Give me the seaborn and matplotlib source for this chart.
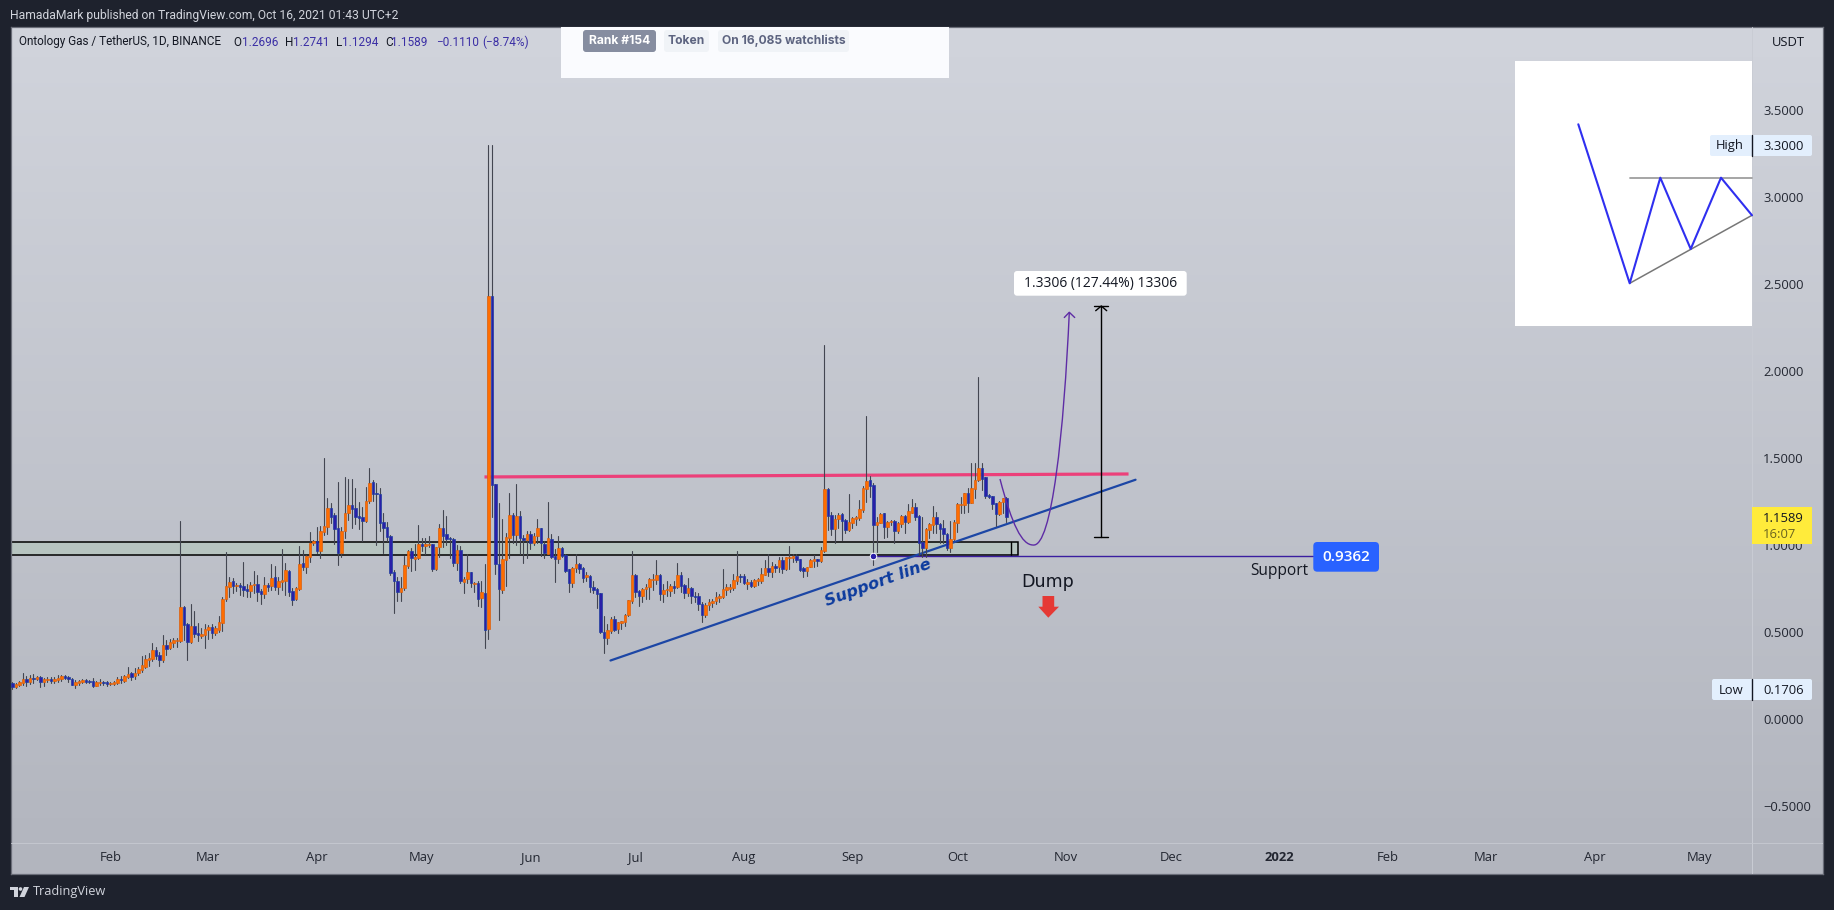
import pandas as pd
import numpy as np
import matplotlib
matplotlib.use('Agg')
import matplotlib.pyplot as plt
import matplotlib.dates as mdates
from matplotlib.patches import Rectangle, FancyBboxPatch, Circle, Polygon, PathPatch
from matplotlib.path import Path
from matplotlib.transforms import Affine2D
import seaborn as sns

# 1. daily OHLC ------------------------------------------------------------
START_DATE = '2021-01-04'

opens = [
    .205, .184, .195, .209, .228, .215, .234, .232, .239, .215, .226, .230, .220, .226, .232, .245, .241, .228, .197, .209,
    .215, .222, .218, .216, .192, .207, .213, .213, .201, .203, .209, .232, .220, .243, .264, .249, .262, .284, .301, .341,
    .347, .397, .368, .339, .425, .410, .439, .446, .448, .642, .546, .444, .534, .492, .479, .483, .511, .527, .496, .511,
    .554, .688, .761, .791, .766, .768, .762, .747, .738, .772, .776, .734, .720, .768, .766, .814, .761, .789, .795, .851,
    .734, .690, .749, .895, .875, .933, 1.010, 1.021, .966, 1.077, 1.105, 1.211, 1.172, 1.096, .956, 1.082, 1.186, 1.228, 1.211, 1.167,
    1.159, 1.140, 1.251, 1.360, 1.299, 1.291, 1.130, 1.102, 1.050, .843, .791, .732, .755, .881, .964, .921, .927, 1.006, .996, 1.000,
    1.004, .864, .987, 1.098, 1.063, 1.040, 1.033, .898, .969, .789, .805, .843, .778, .780, .697, .722, .516, 2.429, 1.349, .892,
    .743, .915, 1.042, 1.173, 1.058, 1.165, 1.038, 1.028, 1.062, 1.014, 1.050, 1.095, 1.008, .951, 1.034, .935, .921, .983, .943, .860,
    .779, .868, .892, .866, .818, .822, .757, .745, .723, .500, .468, .508, .575, .516, .553, .559, .595, .680, .828, .733,
    .709, .745, .757, .797, .797, .828, .721, .739, .737, .763, .757, .828, .769, .723, .753, .706, .704, .660, .595, .654,
    .666, .678, .698, .702, .741, .749, .753, .795, .820, .820, .777, .789, .765, .795, .793, .830, .868, .846, .878, .872,
    .911, .864, .927, .925, .935, .917, .866, .848, .876, .909, .919, .907, .966, 1.320, 1.170, 1.092, 1.149, 1.178, 1.142, 1.088,
    1.128, 1.151, 1.157, 1.203, 1.324, 1.372, 1.343, 1.117, 1.128, 1.182, 1.103, 1.130, 1.136, 1.080, 1.121, 1.165, 1.134, 1.186, 1.218, 1.167,
    1.015, .983, 1.086, 1.117, 1.159, 1.119, 1.096, 1.061, .983, 1.033, 1.128, 1.230, 1.230, 1.297, 1.243, 1.324, 1.372, 1.441, 1.389, 1.285,
    1.280, 1.239, 1.180, 1.249, 1.2696,
]
highs = [
    .215, .205, .218, .262, .247, .253, .259, .249, .247, .236, .243, .243, .239, .251, .253, .251, .247, .236, .224, .226,
    .230, .232, .224, .234, .220, .228, .220, .216, .211, .220, .239, .247, .253, .297, .272, .291, .301, .362, .368, .377,
    .435, .416, .387, .483, .454, .458, .464, .466, 1.136, .649, .550, .661, .621, .550, .521, .546, .540, .546, .534, .592,
    .703, .960, .818, .808, .780, .784, .900, .776, .785, .851, .828, .745, .814, .784, .889, .879, .818, .975, .895, .856,
    .751, .761, .994, .971, .943, 1.075, 1.029, 1.102, 1.109, 1.500, 1.268, 1.239, 1.182, 1.362, 1.102, 1.389, 1.377, 1.377, 1.326, 1.249,
    1.220, 1.335, 1.443, 1.374, 1.354, 1.326, 1.182, 1.134, 1.057, .856, .814, .814, .937, .971, .981, 1.006, 1.113, 1.040, 1.040, 1.052,
    1.006, .990, 1.121, 1.201, 1.167, 1.048, 1.040, .998, .994, .818, .948, .847, .789, .795, .791, .891, 3.298, 3.298, 1.349, 1.242,
    1.149, 1.070, 1.301, 1.184, 1.351, 1.196, 1.058, 1.078, 1.080, 1.066, 1.149, 1.095, 1.020, 1.248, 1.062, .975, 1.050, .990, .947, .864,
    .876, .947, .896, .872, .842, .828, .793, .753, .723, .591, .545, .585, .589, .559, .565, .605, .684, .967, .832, .743,
    .753, .773, .808, .832, .911, .832, .773, .793, .773, .793, .896, .846, .777, .812, .757, .729, .723, .674, .664, .690,
    .690, .729, .717, .862, .773, .777, .836, .967, .832, .832, .804, .797, .802, .808, .868, .911, .947, .901, .888, .931,
    .931, .931, .994, .947, .947, .919, .872, .876, .921, .941, .921, .987, 2.149, 1.326, 1.192, 1.172, 1.186, 1.186, 1.148, 1.293,
    1.159, 1.167, 1.259, 1.339, 1.741, 1.397, 1.354, 1.163, 1.186, 1.186, 1.138, 1.144, 1.144, 1.134, 1.172, 1.172, 1.236, 1.262, 1.239, 1.172,
    1.163, 1.096, 1.125, 1.224, 1.192, 1.125, 1.144, 1.067, 1.138, 1.144, 1.239, 1.278, 1.301, 1.330, 1.469, 1.469, 1.966, 1.469, 1.393, 1.293,
    1.284, 1.243, 1.253, 1.272, 1.2741,
]
lows = [
    .1706, .180, .192, .195, .192, .201, .205, .224, .186, .192, .215, .205, .209, .215, .220, .228, .215, .193, .180, .195,
    .209, .209, .205, .184, .188, .197, .197, .192, .195, .197, .203, .205, .215, .234, .224, .232, .253, .272, .291, .305,
    .335, .347, .305, .330, .368, .402, .416, .416, .444, .454, .339, .439, .473, .450, .464, .408, .460, .466, .483, .502,
    .508, .680, .703, .726, .738, .713, .707, .703, .703, .722, .678, .663, .693, .738, .741, .741, .718, .741, .713, .709,
    .655, .684, .741, .856, .841, .904, 1.000, .952, .927, 1.056, 1.063, 1.125, 1.006, .885, .933, 1.042, 1.144, 1.096, 1.121, 1.090,
    1.025, 1.134, 1.239, 1.253, 1.000, 1.080, .956, 1.025, .828, .611, .678, .678, .741, .866, .852, .856, .918, .967, .948, .990,
    .852, .856, .933, .987, 1.000, .925, .879, .856, .780, .726, .780, .761, .732, .651, .646, .410, .462, 1.163, .832, .571,
    .723, .763, .925, 1.010, 1.000, .947, .897, .925, .977, 1.000, 1.010, .935, .927, .947, .925, .789, .899, .931, .842, .727,
    .761, .842, .838, .789, .793, .729, .723, .638, .496, .381, .432, .496, .506, .496, .519, .535, .591, .664, .700, .650,
    .670, .690, .690, .743, .773, .684, .670, .709, .709, .723, .753, .727, .698, .704, .664, .670, .624, .559, .587, .628,
    .642, .658, .670, .694, .713, .729, .743, .773, .789, .773, .749, .757, .757, .769, .783, .826, .820, .818, .842, .842,
    .840, .858, .862, .901, .903, .852, .816, .822, .872, .876, .882, .901, .962, 1.086, 1.057, 1.013, 1.096, 1.029, 1.067, 1.082,
    1.096, 1.115, 1.144, 1.192, 1.249, 1.278, .885, .962, 1.125, 1.038, 1.048, 1.115, 1.013, 1.067, 1.105, 1.067, 1.125, 1.182, 1.144, .943,
    .933, .929, 1.038, 1.067, 1.067, 1.010, 1.010, .971, .962, 1.029, 1.077, 1.182, 1.182, 1.192, 1.239, 1.268, 1.368, 1.316, 1.268, 1.268,
    1.205, 1.111, 1.172, 1.182, 1.1294,
]
closes = [
    .186, .199, .213, .228, .213, .236, .230, .241, .215, .228, .230, .220, .228, .238, .247, .238, .230, .197, .213, .218,
    .222, .215, .213, .192, .213, .213, .207, .203, .205, .215, .230, .222, .247, .259, .241, .266, .287, .308, .343, .349,
    .397, .362, .339, .423, .404, .441, .454, .452, .642, .542, .443, .534, .489, .483, .489, .515, .527, .496, .523, .557,
    .688, .764, .785, .766, .770, .761, .741, .738, .768, .776, .730, .720, .768, .761, .812, .761, .791, .797, .856, .730,
    .684, .751, .889, .874, .937, 1.011, 1.021, .967, 1.079, 1.107, 1.211, 1.163, 1.094, .956, 1.079, 1.182, 1.228, 1.209, 1.163, 1.157,
    1.140, 1.251, 1.354, 1.295, 1.295, 1.128, 1.100, 1.048, .841, .795, .732, .751, .883, .964, .927, .929, 1.004, .996, 1.006, 1.006,
    .864, .987, 1.098, 1.052, 1.036, 1.033, .898, .969, .795, .805, .843, .780, .782, .692, .730, .513, 2.429, 1.347, .888, .749,
    .919, 1.046, 1.173, 1.060, 1.165, 1.040, 1.028, 1.062, 1.014, 1.050, 1.095, 1.010, .955, 1.038, .931, .921, .983, .939, .850, .783,
    .870, .892, .864, .812, .828, .759, .743, .721, .502, .468, .510, .575, .512, .555, .561, .597, .682, .828, .729, .707,
    .745, .759, .802, .802, .828, .721, .739, .747, .763, .755, .828, .767, .723, .753, .704, .702, .658, .599, .654, .670,
    .678, .700, .704, .745, .757, .757, .797, .820, .816, .779, .789, .765, .797, .802, .832, .868, .846, .878, .870, .911,
    .864, .931, .931, .935, .911, .858, .848, .876, .913, .917, .909, .969, 1.320, 1.169, 1.092, 1.148, 1.170, 1.140, 1.086, 1.132,
    1.153, 1.161, 1.205, 1.328, 1.366, 1.341, 1.117, 1.132, 1.176, 1.105, 1.130, 1.136, 1.082, 1.125, 1.165, 1.134, 1.193, 1.216, 1.163, 1.013,
    .983, 1.090, 1.119, 1.159, 1.121, 1.092, 1.063, .983, 1.033, 1.132, 1.234, 1.236, 1.297, 1.241, 1.326, 1.372, 1.441, 1.381, 1.284, 1.278,
    1.238, 1.178, 1.249, 1.268, 1.1589,
]

# overlay levels, drawn on the price scale
zone_top, zone_bottom = 1.015, 0.945
zone_end_day = 287.3
resist_days, resist_prices = [134.9, 318.9], [1.391, 1.408]
trend_days, trend_prices = [170.9, 320.9], [0.336, 1.375]
support_price = 0.9362
support_days = [246, 371.7]
measure_day = 311.1
measure_low, measure_high = 1.0434, 2.374

price_ticks = [-0.5, 0, 0.5, 1, 1.5, 2, 2.5, 3, 3.5]
month_ticks = ['2021-02-01', '2021-03-01', '2021-04-01', '2021-05-01', '2021-06-01', '2021-07-01', '2021-08-01',
               '2021-09-01', '2021-10-01', '2021-11-01', '2021-12-01', '2022-01-01', '2022-02-01', '2022-03-01',
               '2022-04-01', '2022-05-01']
month_labels = ['Feb', 'Mar', 'Apr', 'May', 'Jun', 'Jul', 'Aug', 'Sep', 'Oct', 'Nov', 'Dec', '2022', 'Feb', 'Mar', 'Apr', 'May']

# sketch pasted over the chart (figure pixels, from the top left)
sketch_x = [1578.3, 1629.7, 1660.3, 1690.7, 1721, 1752]
sketch_y = [124.3, 283.3, 177.7, 249, 177.7, 215.3]

# 2. colours / figure -------------------------------------------------------
BG = '#1e222d'
UP = '#ff6d00'
UP_EDGE = '#d9600f'
DOWN = '#2a1fa8'
DOWN_EDGE = '#1f3fa0'
WICK = '#434651'
TXT = '#131722'
VAL = '#3b2fa5'

sns.set_theme(style='white')
plt.rcParams['font.family'] = ['Open Sans', 'DejaVu Sans']
plt.rcParams['axes.unicode_minus'] = False

W, H = 1834, 910
fig = plt.figure(figsize=(W / 100, H / 100), dpi=100, facecolor=BG)
L, R, T, B = 11, 1823, 27, 874
ax = fig.add_axes([L / W, 1 - B / H, (R - L) / W, (B - T) / H])
px = Affine2D().scale(1, -1).translate(0, H)  # figure pixels, origin top left

base = pd.Timestamp(START_DATE)
def day(n):
    return mdates.date2num(base) + n

# background gradient
grad = np.linspace(0, 1, 256).reshape(-1, 1)
cmap = matplotlib.colors.LinearSegmentedColormap.from_list('tv', ['#d1d4dc', '#b2b5be'])
ax.imshow(grad, aspect='auto', cmap=cmap, extent=(0, 1, 0, 1), transform=ax.transAxes, zorder=0)

df = pd.DataFrame({'open': opens, 'high': highs, 'low': lows, 'close': closes})
df['date'] = pd.date_range(START_DATE, periods=len(df))
df['up'] = df['close'] >= df['open']

# zone + lines under the candles
ax.add_patch(Rectangle((day(-5), zone_bottom), day(zone_end_day) - day(-5), zone_top - zone_bottom,
                       facecolor='#b7c4c0', edgecolor='black', lw=1.1, zorder=1))
ax.plot([day(285.3)] * 2, [zone_bottom, zone_top], color='black', lw=1.0, zorder=1)
ax.plot([day(d) for d in support_days], [support_price] * 2, color='#3a1ea0', lw=1.0, zorder=1)
ax.plot([day(d) for d in resist_days], resist_prices, color='#ec407a', lw=2.3, solid_capstyle='butt', zorder=1.5)
ax.plot([day(d) for d in trend_days], trend_prices, color='#1c46a5', lw=1.6, zorder=1.5)

# 3. candles ----------------------------------------------------------------
wicks = df.melt(id_vars='date', value_vars=['high', 'low'], value_name='price')
sns.lineplot(data=wicks, x='date', y='price', units='date', estimator=None, color=WICK, lw=0.8, ax=ax, zorder=2)
for up, fill, edge in [(True, UP, UP_EDGE), (False, DOWN, DOWN_EDGE)]:
    part = df[df['up'] == up]
    ax.bar(part['date'], (part['close'] - part['open']).abs(), bottom=part[['open', 'close']].min(axis=1), width=0.72,
           color=fill, edgecolor=edge, lw=0.5, zorder=3)

# 4. drawings ---------------------------------------------------------------
# the purple swing is a freehand bezier, placed in figure pixels
swing = Path([(1000, 479), (1012, 525), (1022, 545), (1033, 545), (1052, 548), (1064, 430), (1069.3, 312.3)],
             [Path.MOVETO, Path.CURVE4, Path.CURVE4, Path.CURVE4, Path.CURVE4, Path.CURVE4, Path.CURVE4])
ax.add_patch(PathPatch(swing, facecolor='none', edgecolor='#5e2ca5', lw=1.0, transform=px, zorder=4))
ax.plot([1064.3, 1069.3, 1074.7], [317.5, 312.3, 317.5], color='#5e2ca5', lw=1.0, transform=px, zorder=4)
sns.scatterplot(x=[day(support_days[0])], y=[support_price], s=22, color='#2a1fa8', edgecolor='white', lw=0.7, ax=ax, zorder=5)

ax.plot([day(measure_day)] * 2, [measure_low, measure_high], color='black', lw=1.0, zorder=4)
ax.plot([day(measure_day - 2), day(measure_day + 2)], [measure_low] * 2, color='black', lw=1.0, zorder=4)
ax.plot([day(measure_day - 2), day(measure_day + 2)], [measure_high] * 2, color='black', lw=1.0, zorder=4)
ax.plot([1095.7, 1101.3, 1106.7], [310.7, 306, 310.7], color='black', lw=1.0, transform=px, zorder=4)

ax.set_xlim(day(-0.37), day(517.3))
ax.set_ylim(-0.891, 3.977)
ax.set_xlabel('')
ax.set_ylabel('')

# axis ticks sit inside the panel, as on the site
ax.yaxis.tick_right()
ax.set_yticks(price_ticks)
ax.set_yticklabels([f'{v:.4f}'.replace('-', '\u2212') for v in price_ticks], fontsize=9.4, color=TXT, ha='left')
ax.tick_params(axis='y', length=0, pad=-43.2)
ax.set_xticks([mdates.date2num(pd.Timestamp(m)) for m in month_ticks])
ax.set_xticklabels(month_labels, fontsize=9.4, color=TXT)
ax.get_xticklabels()[11].set_fontweight('bold')
ax.tick_params(axis='x', length=0, pad=-16.5)
for lab in ax.get_yticklabels() + ax.get_xticklabels():
    lab.set_alpha(0.9)
    lab.set_zorder(20)
for s in ax.spines.values():
    s.set_color('#6a6d78')
    s.set_linewidth(0.9)
ax.grid(False)

def pix_rect(x0, y0, x1, y1, color, z=8):
    ax.add_patch(Rectangle((x0, y0), x1 - x0, y1 - y0, facecolor=color, edgecolor='none', transform=px, zorder=z, clip_on=False))

def pill(x0, y0, x1, y1, color, z=9, r=3):
    ax.add_patch(FancyBboxPatch((x0 + r, y0 + r), x1 - x0 - 2 * r, y1 - y0 - 2 * r, boxstyle=f'round,pad={r},rounding_size={r}',
                                facecolor=color, edgecolor='none', transform=px, zorder=z, clip_on=False))

def ptext(x, y, s, size=9.4, color=TXT, ha='left', z=12, **kw):
    ax.text(x, y, s, fontsize=size, color=color, ha=ha, va='center', transform=px, zorder=z, clip_on=False, **kw)

# axis separators
ax.plot([1752, 1752], [T, B], color='#c9ccd4', lw=0.7, transform=px, zorder=6)
ax.plot([L, R], [843, 843], color='#c4c7cf', lw=0.7, transform=px, zorder=6)
ptext(1772, 43, 'USDT')

# pasted sketch, top right
pix_rect(1515, 61, 1752, 326, 'white', z=7)
ax.plot([1629.7, 1752], [177.7, 177.7], color='#9e9e9e', lw=1.3, transform=px, zorder=8)
ax.plot([1629.7, 1752], [283.3, 215.3], color='#777777', lw=1.1, transform=px, zorder=8)
ax.plot(sketch_x, sketch_y, color='#2f2ff0', lw=1.5, transform=px, zorder=9)

# pasted card, top middle
pix_rect(561, 27, 949, 78, '#fafbfe', z=7)
pill(583, 30, 656, 52, '#868da0')
ptext(619.5, 41, 'Rank #154', size=8.7, color='white', ha='center', family='Inter', weight='bold')
pill(664, 30, 709, 52, '#f0f3f7')
ptext(686.5, 41, 'Token', size=8.7, color='#5d6480', ha='center', family='Inter', weight='bold')
pill(718, 30, 849, 52, '#f0f3f7')
ptext(783.5, 41, 'On 16,085 watchlists', size=8.7, color='#5d6480', ha='center', family='Inter', weight='bold')

# price tags
pill(1710, 135, 1812, 156, '#e3effd', r=2)
ax.plot([1751.7, 1751.7], [135, 156], color=TXT, lw=1.0, transform=px, zorder=10)
ptext(1716, 145, 'High')
ptext(1763, 146, '3.3000')
pill(1712, 679, 1812, 700, '#e3effd', r=2)
ax.plot([1751.7, 1751.7], [679, 700], color=TXT, lw=1.0, transform=px, zorder=10)
ptext(1719, 690, 'Low')
ptext(1763, 690, '0.1706')
pix_rect(1752, 507, 1812, 543.7, '#ffeb3b', z=21)
ptext(1763, 518, '1.1589', z=22)
ptext(1763, 534, '16:07', color='#6b6420', z=22)

# measure box, support tag, notes
pill(1014, 271, 1186.7, 295.7, 'white', r=3)
ptext(1100.5, 283, '1.3306 (127.44%) 13306', size=10, ha='center')
pill(1313.3, 542, 1379, 571.7, '#2962ff', r=4)
ptext(1346, 557, '0.9362', size=11, color='white', ha='center', weight='semibold')
ptext(1308, 571, 'Support', size=11.2, color='#131722', ha='right')
ptext(1048, 582, 'Dump', size=12.6, color='#131722', ha='center', family='DejaVu Sans')
ax.add_patch(Polygon([(1042.5, 596), (1054.2, 596), (1054.2, 606.7), (1059, 606.7), (1048.3, 617.7), (1038.3, 606.7), (1042.5, 606.7)],
                     facecolor='#e53935', edgecolor='none', transform=px, zorder=10))
ax.text(877.7, 583, 'Support line', fontsize=11.6, color='#0d3b9e', style='italic', weight='bold', family='DejaVu Sans',
        rotation=20, rotation_mode='anchor', ha='center', va='center', transform=px, zorder=10)

# 5. header, legend, footer -------------------------------------------------
ptext(10, 15, 'HamadaMark published on TradingView.com, Oct 16, 2021 01:43 UTC+2', size=8.7, color='#d1d4dc', family='Roboto')
ptext(18.6, 42, 'Ontology Gas / TetherUS, 1D, BINANCE', size=8.5, family='Roboto')
for x, s, c in [(233, 'O', TXT), (242, '1.2696', VAL), (285, 'H', TXT), (293, '1.2741', VAL), (336, 'L', TXT), (342, '1.1294', VAL),
                (385.5, 'C', TXT), (391.5, '1.1589', VAL), (436, '\u22120.1110', VAL), (482, '(\u22128.74%)', VAL)]:
    ptext(x, 42, s, size=8.5, color=c, family='Roboto')

# TradingView logo
for poly in ([(10, 887), (17.5, 887), (17.5, 897), (13.5, 897), (13.5, 890), (10, 890)],
             [(24, 887), (29, 887), (24.5, 897), (19.5, 897)]):
    ax.add_patch(Polygon(poly, facecolor='#d1d4dc', edgecolor='none', transform=px, clip_on=False, zorder=12))
ax.add_patch(Circle((20.5, 889), 1.8, facecolor='#d1d4dc', edgecolor='none', transform=px, clip_on=False, zorder=12))
ptext(33, 892, 'TradingView', size=9.2, color='#d1d4dc')

fig.savefig('out.png', dpi=100, facecolor=BG)
